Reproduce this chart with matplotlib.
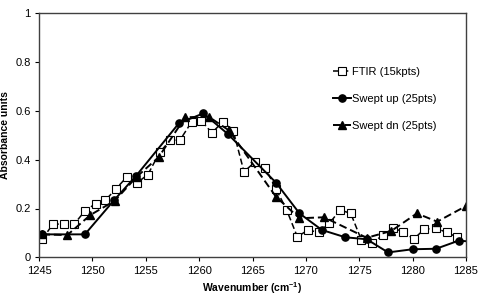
import matplotlib
matplotlib.use('Agg')
import matplotlib.pyplot as plt

plt.rcParams['font.family'] = ['Liberation Sans', 'DejaVu Sans']

# FTIR (15kpts) - open squares, dashed
ftir_x = [1245.3, 1246.3, 1247.3, 1248.3, 1249.3, 1250.3, 1251.2, 1252.2, 1253.2, 1254.2,
          1255.2, 1256.3, 1257.3, 1258.2, 1259.3, 1260.2, 1261.2, 1262.2, 1263.2, 1264.2,
          1265.2, 1266.2, 1267.2, 1268.2, 1269.2, 1270.2, 1271.2, 1272.2, 1273.2, 1274.2,
          1275.2, 1276.2, 1277.2, 1278.2, 1279.1, 1280.1, 1281.1, 1282.2, 1283.2, 1284.2]
ftir_y = [0.074, 0.136, 0.136, 0.136, 0.19, 0.22, 0.233, 0.28, 0.328, 0.306,
          0.339, 0.43, 0.48, 0.48, 0.555, 0.56, 0.51, 0.555, 0.519, 0.351,
          0.389, 0.365, 0.281, 0.194, 0.084, 0.112, 0.102, 0.139, 0.194, 0.18,
          0.071, 0.057, 0.091, 0.119, 0.105, 0.075, 0.115, 0.119, 0.102, 0.082]

# Swept up (25pts) - filled circles, solid
up_x = [1245.3, 1249.3, 1252.05, 1254.1, 1258.1, 1260.4, 1262.7, 1267.2, 1269.4,
        1271.5, 1273.7, 1275.7, 1277.7, 1280.0, 1282.2, 1284.3, 1285.0]
up_y = [0.094, 0.094, 0.235, 0.334, 0.549, 0.59, 0.505, 0.306, 0.18,
        0.112, 0.082, 0.074, 0.02, 0.033, 0.035, 0.068, 0.066]

# Swept dn (25pts) - filled triangles, dashed
dn_x = [1245.3, 1247.65, 1249.8, 1252.1, 1254.15, 1256.2, 1258.7, 1260.9, 1262.8,
        1267.2, 1269.4, 1271.7, 1275.7, 1278.0, 1280.4, 1282.3, 1285.0]
dn_y = [0.094, 0.091, 0.173, 0.232, 0.33, 0.41, 0.574, 0.576, 0.52,
        0.248, 0.16, 0.164, 0.08, 0.108, 0.18, 0.146, 0.21]

fig = plt.figure(figsize=(4.82, 2.98), dpi=100)
ax = fig.add_axes([39 / 482, 1 - 257.3 / 298, (466 - 39) / 482, (257.3 - 13.3) / 298])

ax.plot(ftir_x, ftir_y, color='black', linestyle=(0, (4, 2)), linewidth=1.1,
        marker='s', markersize=5.2, markerfacecolor='white', markeredgecolor='black',
        markeredgewidth=0.8, label='FTIR (15kpts)')
ax.plot(up_x, up_y, color='black', linestyle='-', linewidth=1.4,
        marker='o', markersize=5.2, markerfacecolor='black', markevery=list(range(len(up_x) - 1)),
        label='Swept up (25pts)')
ax.plot(dn_x, dn_y, color='black', linestyle=(0, (4, 2)), linewidth=1.4,
        marker='^', markersize=5.8, markerfacecolor='black',
        label='Swept dn (25pts)')

ax.set_xlim(1245, 1285)
ax.set_ylim(0, 1)
ax.set_xticks([1245, 1250, 1255, 1260, 1265, 1270, 1275, 1280, 1285])
ax.set_yticks([0, 0.2, 0.4, 0.6, 0.8, 1])
ax.set_yticklabels(['0', '0.2', '0.4', '0.6', '0.8', '1'])
ax.tick_params(labelsize=8, direction='out', length=3, width=0.8, pad=3)
for s in ax.spines.values():
    s.set_linewidth(1.0)
    s.set_color('#404040')

ax.set_xlabel('Wavenumber (cm$^{\\mathregular{-1}}$)', fontsize=7.5, fontweight='bold', labelpad=3)
ax.set_ylabel('Absorbance units', fontsize=7.5, fontweight='bold', labelpad=4)

ax.legend(loc='upper left', bbox_to_anchor=(0.665, 0.82), frameon=False, fontsize=8,
          handlelength=1.6, handletextpad=0.1, labelspacing=1.5)

fig.savefig('out.png', dpi=100)
